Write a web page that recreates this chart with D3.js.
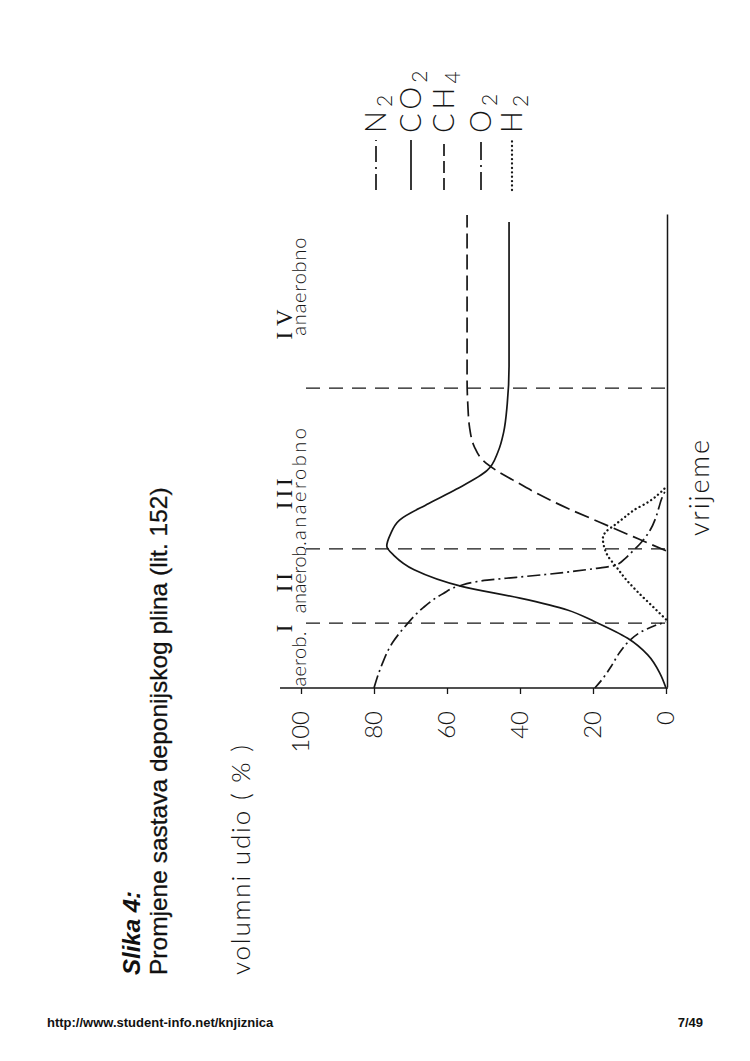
<!DOCTYPE html>
<html><head><meta charset="utf-8">
<script src="https://cdn.jsdelivr.net/npm/d3@7"></script>
<style>body{margin:0;background:#fff} svg{display:block}</style>
</head><body>
<svg id="c" width="750" height="1061"></svg>
<script>
// ---------------- data ----------------
const valueTicks = [0, 20, 40, 60, 80, 100];
const valueTickLabels = ["0", "20", "40", "60", "80", "100"];
const phaseBoundaries = [13.7, 29.4, 63.4];          // time units (0..100)
const phaseNumerals = ["I", "II", "III", "IV"];
const phaseNotes = ["aerob.", "anaerob.", "anaerobno", "anaerobno"];
const seriesNames = ["N2", "CO2", "CH4", "O2", "H2"];

const n2Time  = [0, 5, 9.5, 13, 17, 20, 21.5, 22.8, 23.4, 24, 24.7, 25.3, 25.9, 27.3, 28.8, 30.5, 33.3, 36, 38, 40, 42];
const n2Value = [80, 77.8, 75, 71.5, 66.5, 61, 57, 49, 41, 33, 25, 19, 14, 11.3, 9.3, 7.1, 4.4, 2.8, 2, 1.2, 0];

const co2Time  = [0, 3, 7, 10.5, 14, 16.5, 19, 21.5, 25, 28, 30, 32.5, 35.5, 39, 42, 46, 50, 54, 60, 68, 98.5];
const co2Value = [0, 1.6, 5, 10.5, 19.5, 27, 40, 56, 69, 74.5, 76.5, 75.5, 73, 65, 57.5, 49, 46, 44.5, 43.5, 43, 43];

const ch4Time  = [29, 32, 35, 38, 41, 44, 46, 48, 51, 55, 60, 65, 100];
const ch4Value = [0, 9, 18, 27, 35, 42, 46.5, 50, 52.5, 53.8, 54.3, 54.5, 54.5];

const o2Time  = [0, 2, 4.6, 7.5, 10, 12, 13.2, 14];
const o2Value = [19.5, 17.3, 15, 12.7, 10, 6.5, 3, 0];

const h2Time  = [14.5, 17.5, 20.5, 23, 25.5, 28, 30, 31.6, 33, 34.5, 36, 37.5, 39.5, 41, 42.5];
const h2Value = [0, 4, 8, 11, 13.5, 16, 17, 17.3, 16.5, 14, 11.5, 9, 4.5, 2, 0];

// ---------------- layout ----------------
const W = 750, H = 1061;
const ink = "#161616";
const plotFont = "Lato, 'DejaVu Sans', sans-serif";
const svg = d3.select("#c");
svg.append("rect").attr("width", W).attr("height", H).attr("fill", "#fff");

// whole page figure is rotated 90deg counter-clockwise
const g = svg.append("g").attr("transform", `translate(0,${H}) rotate(-90)`);

const tScale = d3.scaleLinear().domain([0, 100]).range([373, 846]);
const vScale = d3.scaleLinear().domain([0, 100]).range([666, 301]);

// value axis
g.append("line").attr("x1", tScale(0)).attr("x2", tScale(0))
  .attr("y1", 668).attr("y2", 280).attr("stroke", ink).attr("stroke-width", 1.5);
const yAxis = d3.axisLeft(vScale).tickValues(valueTicks)
  .tickFormat((d, i) => valueTickLabels[i]).tickSize(6).tickSizeOuter(0).tickPadding(17);
const ya = g.append("g").attr("transform", `translate(${tScale(0)},0)`).call(yAxis);
ya.select(".domain").remove();
ya.selectAll(".tick line").attr("stroke", ink).attr("stroke-width", 1.3);
ya.selectAll(".tick text").attr("font-family", plotFont).attr("font-weight", 300)
  .attr("font-size", 24).attr("fill", ink);

// time axis
const xAxis = d3.axisBottom(tScale).ticks(0).tickSizeOuter(0);
const xa = g.append("g").attr("transform", `translate(0,${vScale(0) + 1})`).call(xAxis);
xa.select(".domain").attr("stroke", ink).attr("stroke-width", 1.5);

// phase boundaries
g.selectAll(".phase").data(phaseBoundaries).join("line")
  .attr("x1", d => tScale(d)).attr("x2", d => tScale(d))
  .attr("y1", 306).attr("y2", vScale(0))
  .attr("stroke", ink).attr("stroke-width", 1.3).attr("stroke-dasharray", "14,9");

// phase labels
const numeralPos = [13, 22.7, 41.5, 77.5];
g.selectAll(".num").data(phaseNumerals).join("text")
  .attr("x", (d, i) => tScale(numeralPos[i])).attr("y", 292)
  .attr("text-anchor", "middle").attr("font-family", "'Liberation Serif', serif")
  .attr("font-size", 23).attr("letter-spacing", (d) => d === "IV" ? 6 : 4).attr("fill", ink).text(d => d);
const notePos = [0.3, 15.8, 31.3, 74.5];
const noteLen = [55, 72, 112, 98];
g.selectAll(".note").data(phaseNotes).join("text")
  .attr("x", (d, i) => tScale(notePos[i])).attr("y", 306)
  .attr("font-family", plotFont).attr("font-weight", 300).attr("font-size", 20)
  .attr("textLength", (d, i) => noteLen[i]).attr("lengthAdjust", "spacing")
  .attr("fill", ink).text(d => d);

// curves
const series = [
  {t: n2Time, v: n2Value, dash: "13,4,2,4", w: 1.7, cap: "butt"},
  {t: co2Time, v: co2Value, dash: null, w: 1.7, cap: "butt"},
  {t: ch4Time, v: ch4Value, dash: "15,6", w: 1.7, cap: "butt"},
  {t: o2Time, v: o2Value, dash: "10,4,2,4", w: 1.7, cap: "butt"},
  {t: h2Time, v: h2Value, dash: "0.1,4.3", w: 2.3, cap: "round"}
];
const legendDash = ["16,5,2,5", null, "12,5", "18,5,2,5", "0.1,4.3"];
const line = d3.line().x(d => tScale(d[0])).y(d => vScale(d[1])).curve(d3.curveMonotoneX);
series.forEach(s => {
  g.append("path").attr("d", line(s.t.map((t, i) => [t, s.v[i]])))
    .attr("fill", "none").attr("stroke", ink).attr("stroke-width", s.w)
    .attr("stroke-linecap", s.cap).attr("stroke-dasharray", s.dash);
});

// axis titles
g.append("text").attr("x", 573).attr("y", 709).attr("text-anchor", "middle")
  .attr("font-family", plotFont).attr("font-weight", 300).attr("font-size", 27)
  .attr("textLength", 96).attr("lengthAdjust", "spacing").attr("fill", ink).text("vrijeme");
g.append("text").attr("x", 86).attr("y", 250)
  .attr("font-family", plotFont).attr("font-weight", 300).attr("font-size", 26)
  .attr("textLength", 230).attr("lengthAdjust", "spacing").attr("fill", ink).text("volumni udio ( % )");

// figure title
g.append("text").attr("x", 86).attr("y", 140).attr("font-family", "'Liberation Sans', Arial, sans-serif")
  .attr("font-style", "italic").attr("font-weight", "bold").attr("font-size", 24).attr("fill", "#111").text("Slika 4:");
g.append("text").attr("x", 86).attr("y", 167).attr("font-family", "'Liberation Sans', Arial, sans-serif")
  .attr("font-size", 24.5).attr("fill", "#111").attr("stroke", "#111").attr("stroke-width", 0.3)
  .text("Promjene sastava deponijskog plina (lit. 152)");

// legend
const legendRows = [376, 411, 444, 481, 512];
seriesNames.forEach((name, i) => {
  const s = series[i];
  g.append("line").attr("x1", 1061 - 190).attr("x2", 1061 - 140)
    .attr("y1", legendRows[i]).attr("y2", legendRows[i])
    .attr("stroke", ink).attr("stroke-width", s.w).attr("stroke-linecap", s.cap)
    .attr("stroke-dasharray", legendDash[i]);
  const base = name.replace(/\d/g, "");
  const sub = name.replace(/\D/g, "");
  const tx = g.append("text").attr("x", 1061 - 133).attr("y", legendRows[i] + 10)
    .attr("font-family", plotFont).attr("font-weight", 300).attr("font-size", 29)
    .attr("letter-spacing", 4).attr("fill", ink);
  tx.append("tspan").text(base);
  tx.append("tspan").attr("dy", 6).attr("font-size", 21).text(sub);
});

// footer
svg.append("text").attr("x", 47).attr("y", 1027).attr("font-family", "'Liberation Sans', Arial, sans-serif")
  .attr("font-weight", "bold").attr("font-size", 13).attr("fill", "#111").text("http://www.student-info.net/knjiznica");
svg.append("text").attr("x", 703).attr("y", 1027).attr("text-anchor", "end")
  .attr("font-family", "'Liberation Sans', Arial, sans-serif")
  .attr("font-weight", "bold").attr("font-size", 13).attr("fill", "#111").text("7/49");
</script>
</body></html>
